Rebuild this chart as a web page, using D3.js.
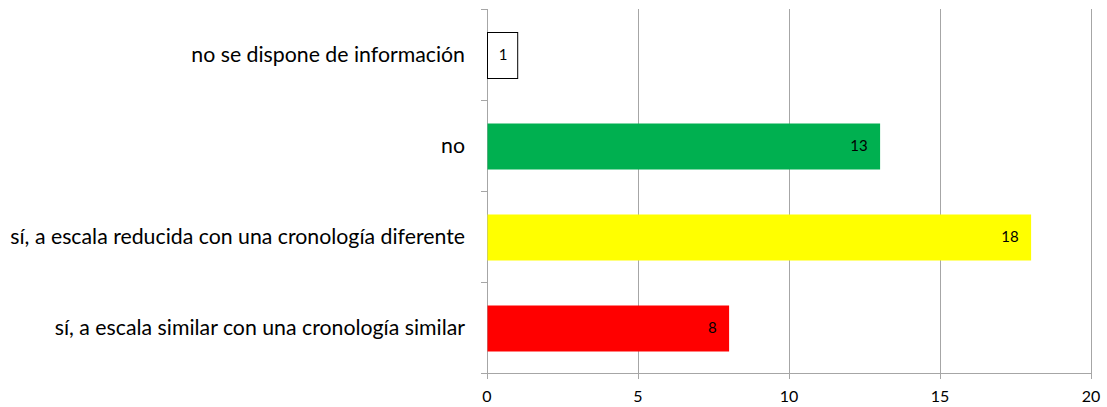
<!DOCTYPE html>
<html><head><meta charset="utf-8">
<script src="https://cdn.jsdelivr.net/npm/d3@7"></script>
<style>body{margin:0;background:#fff}</style>
</head><body>
<svg id="c" width="1107" height="407"></svg>
<script>
const categories = ["no se dispone de información","no","sí, a escala reducida con una cronología diferente","sí, a escala similar con una cronología similar"];
const values = [1,13,18,8];
const colors = ["#ffffff","#00b050","#ffff00","#ff0000"];
const xTicks = [0,5,10,15,20];

const svg = d3.select("#c");
const m = {left:487, right:1091, top:9, bottom:373};
const font = "Lato, 'Open Sans', sans-serif";
const x = d3.scaleLinear().domain([0,20]).range([m.left,m.right]);
const y = d3.scaleBand().domain(categories).range([m.top,m.bottom]).paddingInner(0.495).paddingOuter(0.2475);
const yb = d3.scaleBand().domain(categories).range([m.top,m.bottom]);

// gridlines
svg.append("g").selectAll("line").data(xTicks.slice(1)).join("line")
  .attr("x1",d=>x(d)+0.5).attr("x2",d=>x(d)+0.5).attr("y1",m.top).attr("y2",m.bottom+6)
  .attr("stroke","#a6a6a6").attr("stroke-width",1);

// x axis
svg.append("line").attr("x1",m.left).attr("x2",m.right+0.5).attr("y1",m.bottom+0.5).attr("y2",m.bottom+0.5)
  .attr("stroke","#a6a6a6");
svg.append("g").selectAll("line").data([xTicks[0]]).join("line")
  .attr("x1",d=>x(d)+0.5).attr("x2",d=>x(d)+0.5).attr("y1",m.bottom).attr("y2",m.bottom+6).attr("stroke","#a6a6a6");
svg.append("g").selectAll("text").data(xTicks).join("text")
  .attr("x",d=>x(d)).attr("y",396).attr("dy","0.35em").attr("text-anchor","middle")
  .attr("font-family",font).attr("font-size",16).attr("fill","#000").text(d=>d);

// y axis
svg.append("line").attr("x1",m.left+0.5).attr("x2",m.left+0.5).attr("y1",m.top).attr("y2",m.bottom+6).attr("stroke","#a6a6a6");
const yTickPos = categories.map(c=>yb(c)).concat([m.bottom]);
svg.append("g").selectAll("line").data(yTickPos).join("line")
  .attr("x1",m.left-6).attr("x2",m.left).attr("y1",d=>Math.round(d)+0.5).attr("y2",d=>Math.round(d)+0.5).attr("stroke","#a6a6a6");

// bars
svg.append("g").selectAll("rect").data(categories).join("rect")
  .attr("x",x(0)+0.5).attr("y",(d)=>Math.round(y(d))+0.5)
  .attr("width",(d,i)=>x(values[i])-x(0)).attr("height",Math.round(y.bandwidth()))
  .attr("fill",(d,i)=>colors[i])
  .attr("stroke",(d,i)=>i===0?"#000":"none").attr("stroke-width",1);

// value labels
svg.append("g").selectAll("text").data(categories).join("text")
  .attr("x",(d,i)=>i===0? (x(0)+x(values[i]))/2 + 1 : x(values[i])-12)
  .attr("y",d=>y(d)+y.bandwidth()/2)
  .attr("dy","0.35em")
  .attr("text-anchor",(d,i)=>i===0?"middle":"end")
  .attr("font-family",font).attr("font-size",15).attr("fill","#000")
  .text((d,i)=>values[i]);

// category labels
const cat = svg.append("g").selectAll("text").data(categories).join("text")
  .attr("x",m.left-22).attr("y",d=>yb(d)+yb.bandwidth()/2).attr("dy","0.35em")
  .attr("text-anchor","end").attr("font-family",font).attr("font-size",20).attr("fill","#000")
  .text(d=>d);
const maxW = d3.max(cat.nodes(), n=>n.getComputedTextLength());
cat.attr("font-size", 20*455/maxW);
</script>
</body></html>
